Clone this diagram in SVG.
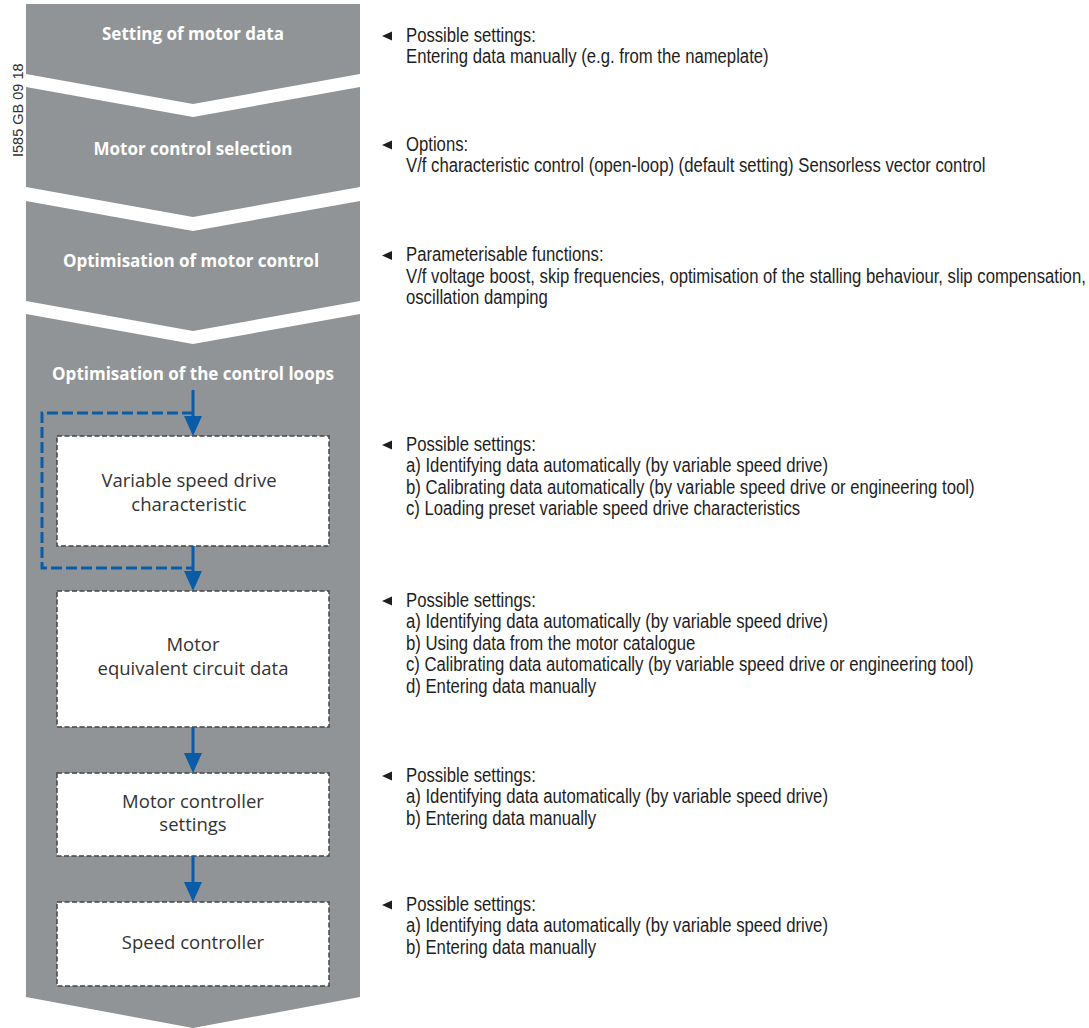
<svg xmlns="http://www.w3.org/2000/svg" width="1089" height="1028" viewBox="0 0 1089 1028">
<style>
.chev{fill:#919496}
.title{font-family:"Open Sans","Noto Sans",sans-serif;font-weight:700;font-size:17px;fill:#ffffff;text-anchor:middle}
.box{fill:#ffffff;stroke:#444444;stroke-width:1.5;stroke-dasharray:5 2.5}
.btxt{font-family:"Open Sans","Noto Sans",sans-serif;font-size:18.5px;fill:#333333;text-anchor:middle}
.note{font-family:"Liberation Sans Narrow","Liberation Sans",Arial,sans-serif;font-size:20px;fill:#1e1e1e}
.tri{fill:#1e1e1e}
.flow{stroke:#0b5ca8;stroke-width:3;fill:none}
.dash{stroke:#0b5ca8;stroke-width:3;fill:none;stroke-dasharray:11 4}
.head{fill:#0b5ca8}
.code{font-family:"Liberation Sans",Arial,sans-serif;font-size:14.5px;fill:#333333}
</style>
<defs>
<polygon id="mark" points="0,0 10,-4.5 10,4.5" class="tri"/>
<polygon id="ah" points="-9,-20 9,-20 0,0" class="head"/>
</defs>
<rect width="1089" height="1028" fill="#ffffff"/>
<text class="code" transform="translate(23,157) rotate(-90)">I585 GB 09 18</text>

<g id="stage1">
<polygon class="chev" points="26,4 360,4 360,74 193,104 26,74"/>
<text class="title" x="193" y="40">Setting of motor data</text>
</g>
<g id="stage2">
<polygon class="chev" points="26,87 193,117 360,87 360,187 193,217 26,187"/>
<text class="title" x="193" y="155">Motor control selection</text>
</g>
<g id="stage3">
<polygon class="chev" points="26,201 193,231 360,201 360,301 193,331 26,301"/>
<text class="title" x="191" y="267">Optimisation of motor control</text>
</g>
<g id="stage4">
<polygon class="chev" points="26,314 193,344 360,314 360,997 193,1028 26,997"/>
<text class="title" x="193" y="380">Optimisation of the control loops</text>
</g>

<g id="box1">
<rect class="box" x="57" y="436" width="272" height="110"/>
<text class="btxt" x="189" y="487">Variable speed drive</text>
<text class="btxt" x="189" y="511">characteristic</text>
</g>
<g id="box2">
<rect class="box" x="57" y="591" width="272" height="136"/>
<text class="btxt" x="193" y="651">Motor</text>
<text class="btxt" x="193" y="675">equivalent circuit data</text>
</g>
<g id="box3">
<rect class="box" x="57" y="773" width="272" height="83"/>
<text class="btxt" x="193" y="808">Motor controller</text>
<text class="btxt" x="193" y="831">settings</text>
</g>
<g id="box4">
<rect class="box" x="57" y="902" width="272" height="84"/>
<text class="btxt" x="193" y="949">Speed controller</text>
</g>

<g id="connectors">
<path class="dash" d="M193,413 H42 V568 H193"/>
<line class="flow" x1="193" y1="390" x2="193" y2="418"/>
<use href="#ah" x="193" y="436"/>
<line class="flow" x1="193" y1="546" x2="193" y2="573"/>
<use href="#ah" x="193" y="591"/>
<line class="flow" x1="193" y1="727" x2="193" y2="755"/>
<use href="#ah" x="193" y="773"/>
<line class="flow" x1="193" y1="856" x2="193" y2="884"/>
<use href="#ah" x="193" y="902"/>
</g>

<g id="markers">
<use href="#mark" x="382" y="36"/>
<use href="#mark" x="382" y="145"/>
<use href="#mark" x="382" y="255.5"/>
<use href="#mark" x="382" y="445"/>
<use href="#mark" x="382" y="601"/>
<use href="#mark" x="382" y="776"/>
<use href="#mark" x="382" y="905"/>
</g>

<g id="notes" transform="matrix(0.835,0,0,1,406,0)">
<g id="note1">
<text class="note" x="0" y="42">Possible settings:</text>
<text class="note" x="0" y="63.5">Entering data manually (e.g. from the nameplate)</text>
</g>
<g id="note2">
<text class="note" x="0" y="151">Options:</text>
<text class="note" x="0" y="172.5">V/f characteristic control (open-loop) (default setting) Sensorless vector control</text>
</g>
<g id="note3">
<text class="note" x="0" y="261.5">Parameterisable functions:</text>
<text class="note" x="0" y="283">V/f voltage boost, skip frequencies, optimisation of the stalling behaviour, slip compensation,</text>
<text class="note" x="0" y="304.5">oscillation damping</text>
</g>
<g id="note4">
<text class="note" x="0" y="451">Possible settings:</text>
<text class="note" x="0" y="472.5">a) Identifying data automatically (by variable speed drive)</text>
<text class="note" x="0" y="494">b) Calibrating data automatically (by variable speed drive or engineering tool)</text>
<text class="note" x="0" y="515.5">c) Loading preset variable speed drive characteristics</text>
</g>
<g id="note5">
<text class="note" x="0" y="607">Possible settings:</text>
<text class="note" x="0" y="628.5">a) Identifying data automatically (by variable speed drive)</text>
<text class="note" x="0" y="650">b) Using data from the motor catalogue</text>
<text class="note" x="0" y="671.5">c) Calibrating data automatically (by variable speed drive or engineering tool)</text>
<text class="note" x="0" y="693">d) Entering data manually</text>
</g>
<g id="note6">
<text class="note" x="0" y="782">Possible settings:</text>
<text class="note" x="0" y="803.5">a) Identifying data automatically (by variable speed drive)</text>
<text class="note" x="0" y="825">b) Entering data manually</text>
</g>
<g id="note7">
<text class="note" x="0" y="911">Possible settings:</text>
<text class="note" x="0" y="932.5">a) Identifying data automatically (by variable speed drive)</text>
<text class="note" x="0" y="954">b) Entering data manually</text>
</g>
</g>
</svg>
